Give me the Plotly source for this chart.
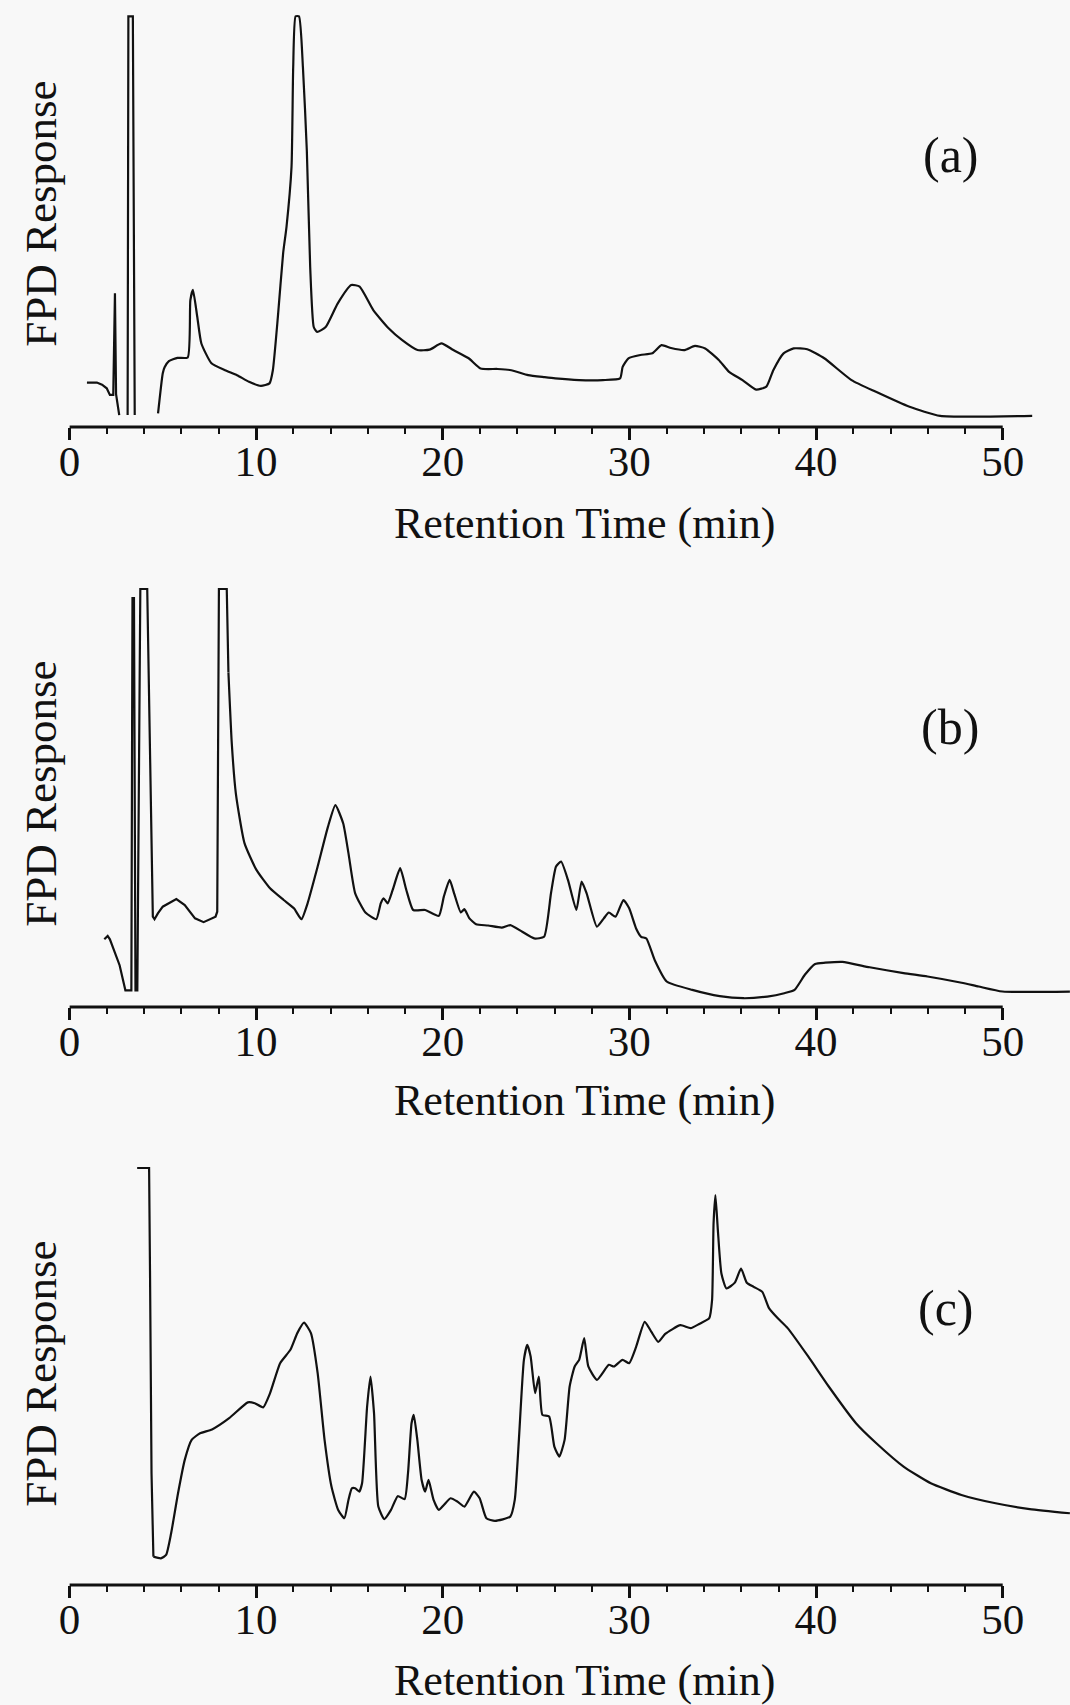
import plotly.graph_objects as go

# ---- chromatogram traces (retention time in min, FPD response in chart units) ----
# None marks where the pen ran off the bottom of the chart paper.
time_a = [0.94, 1.47, 1.75, 2.0, 2.17, 2.35, 2.44, 2.50, 2.67, None,
          3.12, 3.16, 3.40, 3.50, None,
          4.75, 5.0, 5.1, 5.33, 5.79, 6.34, 6.48, 6.62, 6.85, 7.07, 7.61, 8.34, 8.98,
          9.62, 10.26, 10.72, 10.9, 11.17, 11.45, 11.63, 11.9, 11.99, 12.12, 12.3,
          12.51, 12.72, 12.9, 13.09, 13.27, 13.73, 14.37, 15.1, 15.55, 16.28, 17.1,
          17.83, 18.65, 19.3, 19.93, 20.57, 21.39, 22.03, 22.94, 23.67, 24.58, 25.46,
          26.03, 27.31, 28.58, 29.5, 29.64, 29.95, 30.59, 31.23, 31.72, 32.23, 32.96,
          33.51, 34.06, 34.79, 35.34, 36.06, 36.79, 37.34, 37.71, 38.26, 38.8, 39.53,
          40.44, 41.9, 43.18, 45.01, 46.65, 51.58]
resp_a = [10.8, 10.8, 10.3, 9.4, 7.8, 7.8, 32.5, 8.0, 2.9, None,
          2.9, 99.8, 99.8, 2.9, None,
          3.3, 13.0, 14.5, 16.0, 16.8, 16.9, 30.8, 33.3, 26.8, 20.3, 15.5, 13.8, 12.6,
          11.0, 10.0, 10.6, 13.8, 26.8, 42.2, 48.6, 63.2, 87.5, 99.8, 99.8,
          87.5, 67.2, 38.9, 24.3, 23.1, 24.3, 30.0, 34.5, 34.1, 28.4, 24.0,
          21.1, 18.7, 18.8, 20.3, 18.7, 16.7, 14.2, 14.1, 13.8, 12.6, 12.1,
          11.8, 11.4, 11.4, 11.8, 14.6, 16.7, 17.5, 17.9, 19.9, 19.2, 18.7,
          19.7, 19.1, 16.3, 13.4, 11.4, 9.1, 9.8, 13.8, 17.9, 19.1, 18.9,
          16.7, 11.4, 8.6, 4.9, 2.7, 2.7]

time_b = [1.87, 2.05, 2.17, 2.44, 2.69, 3.0, 3.32, 3.38, 3.46, 3.54, 3.64, 3.80,
          4.17, 4.47, 4.56, 4.74, 5.0, 5.73, 6.18, 6.73, 7.19, 7.83, 7.92, 8.01,
          8.43, 8.52, 8.70, 8.92, 9.38, 10.02, 10.75, 11.48, 12.03, 12.43, 12.76,
          13.3, 13.85, 14.25, 14.67, 14.95, 15.31, 15.86, 16.44, 16.68, 16.83,
          17.05, 17.32, 17.72, 18.05, 18.42, 19.06, 19.79, 20.06, 20.37, 20.61,
          20.97, 21.16, 21.43, 21.79, 22.43, 23.16, 23.62, 24.26, 24.9, 25.43,
          25.8, 26.07, 26.34, 26.71, 27.16, 27.44, 27.71, 28.26, 28.63, 28.9,
          29.26, 29.68, 29.99, 30.36, 30.63, 30.91, 31.36, 32.0, 33.37, 34.84,
          36.11, 37.39, 38.3, 38.85, 39.4, 39.95, 40.49, 41.41, 42.87, 44.69,
          45.97, 47.8, 48.71, 49.99, 53.6]
resp_b = [16.2, 17.0, 16.2, 12.8, 10.0, 4.0, 4.0, 97.8, 97.8, 4.0, 4.0, 100,
          100, 21.6, 21.0, 22.4, 24.0, 25.8, 24.4, 21.2, 20.3, 21.6, 22.8, 100,
          100, 80.0, 63.0, 51.0, 39.2, 32.8, 28.4, 25.6, 23.6, 21.0, 24.8,
          33.6, 43.1, 48.3, 43.9, 36.8, 27.2, 22.6, 21.0, 24.8, 26.0,
          24.8, 28.0, 33.2, 28.0, 23.2, 23.2, 21.8, 26.4, 30.4, 27.2,
          22.6, 23.4, 21.2, 19.8, 19.5, 19.0, 19.6, 18.0, 16.4, 16.8,
          27.2, 33.6, 34.8, 30.4, 23.2, 30.0, 27.2, 19.2, 21.2, 22.6,
          21.6, 25.6, 23.6, 18.8, 16.8, 16.4, 11.2, 6.1, 4.1, 2.6,
          2.1, 2.5, 3.3, 4.1, 7.7, 10.3, 10.6, 10.8, 9.5, 8.1,
          7.3, 5.8, 4.9, 3.7, 3.7]

time_c = [3.63, 4.27, 4.32, 4.4, 4.5, 4.9, 5.18, 5.45, 5.82, 6.18, 6.55, 7.0, 7.64,
          8.56, 9.56, 9.93, 10.38, 10.75, 11.29, 11.84, 12.21, 12.57, 12.94, 13.3,
          13.67, 14.04, 14.4, 14.73, 14.95, 15.13, 15.31, 15.53, 15.68, 15.95,
          16.13, 16.32, 16.55, 16.87, 17.23, 17.59, 17.96, 18.14, 18.33, 18.45,
          18.64, 18.87, 19.06, 19.24, 19.51, 19.79, 20.06, 20.42, 20.79, 21.16,
          21.67, 21.98, 22.34, 22.8, 23.62, 23.86, 24.08, 24.35, 24.53, 24.71,
          24.95, 25.15, 25.34, 25.7, 25.98, 26.25, 26.53, 26.8, 27.07, 27.31,
          27.58, 27.8, 28.26, 28.9, 29.17, 29.63, 29.99, 30.36, 30.82, 31.18,
          31.55, 31.92, 32.73, 33.28, 33.74, 34.28, 34.43, 34.51, 34.61, 34.74,
          34.93, 35.2, 35.65, 35.98, 36.29, 36.66, 37.12, 37.48, 37.94, 38.48,
          39.58, 40.68, 42.14, 43.23, 44.69, 46.15, 47.79, 49.62, 51.45, 53.6]
resp_c = [100, 100, 74.7, 26.8, 6.8, 6.4, 7.2, 12.4, 22.0, 30.0, 34.8, 36.4, 37.3,
          40.0, 43.8, 43.6, 42.6, 46.0, 53.2, 56.4, 60.4, 62.9, 60.4, 50.8,
          34.8, 23.6, 18.0, 16.0, 20.4, 23.2, 23.2, 22.4, 24.4, 42.8,
          50.0, 41.2, 18.8, 15.8, 18.0, 21.3, 20.6, 26.8, 38.8, 40.8,
          34.8, 25.2, 22.4, 25.2, 20.4, 18.0, 19.2, 20.8, 20.0, 18.8,
          22.4, 20.8, 16.0, 15.4, 16.4, 20.4, 34.8, 54.0, 57.6, 54.8,
          46.0, 50.0, 40.8, 40.4, 33.2, 30.8, 34.8, 47.6, 52.4, 54.0,
          59.2, 52.4, 49.2, 52.8, 52.4, 54.0, 53.2, 57.1, 63.1, 60.7,
          58.3, 60.2, 62.3, 61.6, 62.6, 64.0, 68.3, 86.7, 93.5, 85.1,
          74.7, 71.1, 72.5, 75.9, 72.5, 71.5, 70.3, 66.4, 64.0, 61.6,
          54.8, 47.6, 38.8, 34.0, 28.4, 24.4, 21.6, 19.6, 18.2, 17.2]

# off-scale (pen-limited) stretch at the start of each run, drawn with straight strokes
offscale_until = [4.75, 8.52, 4.5]

panel_tags = ["(a)", "(b)", "(c)"]
major_ticks = [0, 10, 20, 30, 40, 50]
minor_ticks = [2, 4, 6, 8, 12, 14, 16, 18, 22, 24, 26, 28, 32, 34, 36, 38, 42, 44, 46, 48]
x_title = "Retention Time (min)"
y_title = "FPD Response"

# ---- page geometry (pixels) ----
W, H = 1070, 1705
X0_PX, X50_PX = 59.0, 1002.0          # pixel positions of t = 0 and t = 50 min
PX_PER_MIN = (X50_PX - X0_PX) / 50.0
X_MAX = (W - X0_PX) / PX_PER_MIN
Y_TOP = 102.0                          # response shown at the top of each panel

# (baseline pixel, pixel of response 100) per panel
panel_px = [(427.0, 15.5), (1007.0, 589.0), (1585.0, 1168.0)]
tag_px = [(950, 155), (949, 727), (945, 1308)]
ytitle_cy = [214, 794, 1374]
xtitle_cy = [523, 1100, 1680]

FONT = "Liberation Serif, Times New Roman, serif"
INK = "#111111"
BG = "#f8f8f8"

def py(p):
    return 1.0 - p / H

def px(p):
    return p / W

fig = go.Figure()
series = [(time_a, resp_a), (time_b, resp_b), (time_c, resp_c)]

for i, (t, r) in enumerate(series):
    n = "" if i == 0 else str(i + 1)
    # index of the first sample of the smooth part of the run
    k = next(j for j, v in enumerate(t) if v is not None and v >= offscale_until[i])
    common = dict(mode="lines", xaxis="x" + n, yaxis="y" + n, connectgaps=False,
                  showlegend=False, hoverinfo="skip")
    fig.add_trace(go.Scatter(x=t[:k + 1], y=r[:k + 1],
                             line=dict(color=INK, width=2.2, shape="linear"), **common))
    fig.add_trace(go.Scatter(x=t[k:], y=r[k:],
                             line=dict(color=INK, width=2.2, shape="spline", smoothing=0.5),
                             **common))

    base, top100 = panel_px[i]
    scale = (base - top100) / 100.0
    dom_top = base - Y_TOP * scale

    fig.layout["xaxis" + n] = dict(
        domain=[px(X0_PX), 1.0], range=[0, X_MAX], anchor="y" + n,
        showline=False, showgrid=False, zeroline=False,
        tickmode="array", tickvals=major_ticks, ticktext=[str(v) for v in major_ticks],
        ticks="outside", ticklen=12, tickwidth=2.5, tickcolor=INK,
        ticklabelstandoff=-16,
        tickfont=dict(family=FONT, size=43, color=INK),
        minor=dict(tickmode="array", tickvals=minor_ticks, ticks="outside",
                   ticklen=6, tickwidth=2, tickcolor=INK, showgrid=False),
        fixedrange=True)
    fig.layout["yaxis" + n] = dict(
        domain=[py(base), py(dom_top)], range=[0, Y_TOP], anchor="x" + n,
        visible=False, fixedrange=True)

    # axis line spans only 0–50 min
    fig.add_shape(type="line", xref="x" + n, yref=("y" + n) + " domain",
                  x0=0, x1=50, y0=0, y1=0, line=dict(color=INK, width=3))

    fig.add_annotation(text=x_title, xref="paper", yref="paper",
                       x=px(579), y=py(xtitle_cy[i]), xanchor="center", yanchor="middle",
                       showarrow=False, font=dict(family=FONT, size=44, color=INK))
    fig.add_annotation(text=y_title, xref="paper", yref="paper", textangle=-90,
                       x=px(30), y=py(ytitle_cy[i]), xanchor="center", yanchor="middle",
                       showarrow=False, font=dict(family=FONT, size=45, color=INK))
    fig.add_annotation(text=panel_tags[i], xref="paper", yref="paper",
                       x=px(tag_px[i][0]), y=py(tag_px[i][1]), xanchor="center", yanchor="middle",
                       showarrow=False, font=dict(family=FONT, size=50, color=INK))

fig.update_layout(
    width=W, height=H, margin=dict(l=0, r=0, t=0, b=0),
    paper_bgcolor=BG, plot_bgcolor=BG, showlegend=False)

fig.write_html("out.html", config={"displayModeBar": False})
